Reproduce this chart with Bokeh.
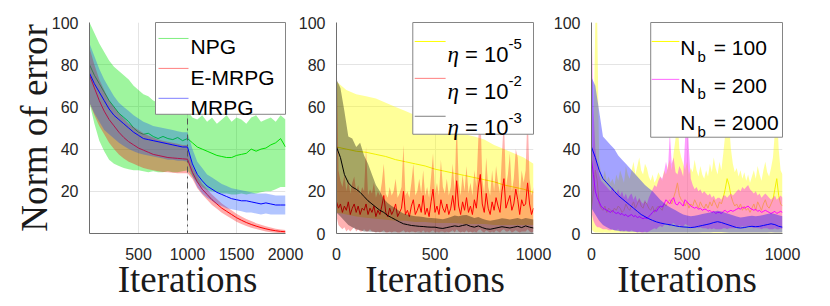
from bokeh.plotting import figure
from bokeh.layouts import row
from bokeh.models import Range1d, FixedTicker, Span, Label
from bokeh.embed import file_html
from bokeh.resources import INLINE

# ---------------- data ----------------
# Panel 1: iterations 0..2000 every 50
ITER1 = list(range(0, 2001, 50))
npg_mean = [80, 75, 71, 67, 63, 60, 57, 55, 53, 50, 48, 47, 47.5, 46, 45, 46, 45, 44.5, 45.5, 44, 45,
            43, 41, 40, 39, 38, 37, 36.5, 36, 36, 37, 37.5, 38, 40, 39, 40, 40.5, 42, 43, 45, 41]
npg_hi = [100, 95, 90, 86, 82, 79, 77, 75, 73, 70, 68, 66, 65, 63, 62, 61, 60, 61, 59, 60, 58,
          55, 54, 56, 53, 55, 52, 54, 56, 53, 55, 54, 52, 55, 56, 53, 54, 55, 53, 56, 54]
npg_lo = [62, 52, 44, 39, 35, 33, 32, 31, 30.5, 30, 30, 29.5, 29, 29.5, 29, 29, 29.5, 29, 29, 29.5, 30,
          27, 24, 22, 20.5, 20, 19.5, 19, 19, 18.5, 18.5, 19, 18.5, 19, 19, 19.5, 20, 20, 21, 22, 22]

emrpg_mean = [75, 69, 63, 58, 54, 51, 48, 45.5, 43.5, 42, 40.5, 39.5, 38.5, 37.5, 37, 36.5, 36, 35.8, 35.6, 35.4, 35.2,
              29, 24.5, 21, 18.5, 16, 14, 12, 10.5, 9, 7.5, 6.3, 5.2, 4.3, 3.5, 2.8, 2.2, 1.7, 1.3, 1.0, 0.8]
emrpg_hi = [88, 80, 73, 68, 63, 60, 57, 54.5, 52, 50.5, 49, 47.5, 46.5, 45.5, 44.5, 44, 43.5, 43, 42.5, 42, 42,
            32, 27.5, 23.5, 21, 18.5, 16.3, 14.2, 12.6, 11, 9.4, 8.1, 6.9, 5.9, 4.9, 4.1, 3.4, 2.8, 2.3, 1.9, 1.6]
emrpg_lo = [62, 56, 51, 47, 43, 40, 37.5, 35.5, 34, 33, 32, 31, 30.5, 30, 29.5, 29.2, 29, 28.8, 28.6, 28.5, 28.5,
            26, 21.5, 18.5, 16, 13.5, 11.7, 9.8, 8.4, 7, 5.6, 4.5, 3.5, 2.7, 2.1, 1.5, 1.0, 0.6, 0.3, 0.1, 0]

mrpg_mean = [76, 71, 67, 63, 59, 56, 54, 52, 50, 48, 46.5, 45, 44.5, 44, 43.5, 43, 42.5, 42, 41.5, 41, 41,
             33, 28, 25, 22.5, 21, 19.5, 18.5, 17.5, 16.5, 16, 15.5, 15.5, 15, 14.5, 14, 14.5, 14, 13.5, 13.5, 13.5]
mrpg_hi = [90, 84, 78, 73, 69, 65, 62, 60, 58, 56, 54.5, 53, 52, 51, 50.5, 50, 49.5, 49, 48.5, 48, 48,
           40, 34, 31, 28, 26.5, 25, 23.5, 22.5, 21.5, 21, 20.5, 20, 19.5, 19, 19, 19, 18.5, 18, 18, 18]
mrpg_lo = [62, 57, 53, 49, 47, 45, 43, 41.5, 40, 39, 38, 37.5, 37, 36.5, 36, 35.5, 35, 35, 34.5, 34.5, 34,
           27, 22, 19, 17, 15.5, 14, 13, 12, 11.5, 11, 10.5, 10, 10, 9.5, 9, 9.5, 9, 9, 9, 9]

# Panel 2: eta study
ITER_COARSE = list(range(0, 1001, 50))
ITER_MID = list(range(0, 1001, 20))
ITER_FINE = list(range(0, 1001, 10))

eta5_mean = [41, 40, 39, 38.5, 37.5, 36.5, 35, 34, 33, 32, 30.5, 29.5, 28.5, 27.5, 26.5, 25.5, 24.5, 23, 22, 21, 19.5]
eta5_hi = [72, 68, 66, 65, 64, 62, 60, 58, 56, 54, 52, 50, 48.5, 47, 46, 44.5, 42, 40, 38, 36, 33]
eta5_lo = [10, 9, 8, 7.5, 7, 6.5, 6, 6, 5.5, 5.5, 5, 5, 5, 4.5, 4.5, 4.5, 4, 4, 4, 4, 4]

eta2_mean = [15, 12, 14, 10, 13, 11, 15, 9, 12, 14,
             10, 13, 9, 12, 11, 14, 9, 12, 10, 13,
             8, 11, 9, 13, 18, 10, 8, 12, 9, 11,
             14, 8, 10, 12, 20, 9, 11, 8, 13, 16,
             9, 11, 14, 10, 18, 9, 12, 8, 15, 21,
             10, 13, 9, 16, 12, 10, 14, 9, 12, 18,
             11, 25, 13, 9, 15, 11, 17, 10, 13, 9,
             16, 12, 22, 28, 14, 10, 19, 12, 9, 15,
             11, 17, 13, 10, 20, 26, 12, 15, 18, 11,
             14, 21, 16, 9, 16, 13, 14, 24, 14, 9,
             12]
eta2_hi = [90, 30, 25, 22, 28, 20, 26, 19, 24, 27,
           20, 23, 18, 22, 20, 41, 18, 21, 19, 24,
           17, 20, 18, 24, 33, 19, 17, 22, 18, 20,
           26, 17, 19, 22, 42, 18, 20, 17, 24, 33,
           18, 20, 26, 19, 30, 18, 22, 17, 27, 38,
           19, 24, 18, 35, 22, 19, 26, 18, 22, 33,
           20, 55, 24, 18, 28, 20, 32, 19, 24, 18,
           30, 22, 45, 60, 26, 19, 36, 22, 18, 30,
           20, 32, 24, 19, 38, 55, 22, 28, 38, 20,
           26, 40, 36, 18, 30, 24, 30, 58, 26, 18,
           22]
eta2_lo = [8, 4, 3, 2, 3, 1, 2, 1, 2, 3,
           1, 2, 1, 1, 2, 1, 1, 2, 1, 1,
           0.5, 1, 0.5, 1, 1.5, 0.5, 0.5, 1, 0.5, 1,
           1, 0.5, 0.5, 1, 1.5, 0.5, 1, 0.5, 1, 1,
           0.5, 1, 1, 0.5, 1.5, 0.5, 1, 0.5, 1, 1.5,
           0.5, 1, 0.5, 1, 1, 0.5, 1, 0.5, 1, 1.5,
           0.5, 2, 1, 0.5, 1, 0.5, 1.5, 0.5, 1, 0.5,
           1, 0.5, 1.5, 2, 1, 0.5, 1.5, 1, 0.5, 1,
           0.5, 1.5, 1, 0.5, 1.5, 2, 1, 1, 1.5, 0.5,
           1, 1.5, 1, 0.5, 1, 1, 1, 2, 1, 0.5,
           1]

eta3_mean = [41, 36, 28, 24, 22, 21, 19.5, 17.5, 15.5, 14, 12.5, 11, 10, 8.5, 7.5, 6.5, 5.5, 4.6, 4.2, 3.8,
             3.6, 3.4, 3.3, 3.1, 3.0, 3.0, 2.6, 2.4, 2.8, 3.2, 3.6, 3.3, 3.8, 4.2, 3.4, 3.0, 3.6, 2.8, 2.2, 2.0,
             2.4, 2.8, 3.2, 2.9, 2.6, 3.0, 3.4, 2.8, 3.6, 3.0, 2.6]
eta3_hi = [73, 69, 58, 46, 45, 41, 43, 37, 33, 28, 23, 20, 16.5, 14.5, 13, 12, 10.5, 9.5, 9, 8.5,
           8.2, 8, 7.8, 7.5, 7.3, 7.2, 7, 6.8, 7.2, 7.8, 8.5, 8.2, 8.6, 8.8, 8.0, 7.4, 7.8, 7.0, 6.4, 6.0,
           6.4, 6.8, 7.2, 7.0, 6.6, 7.0, 7.4, 6.8, 7.4, 7.0, 6.6]
eta3_lo = [10, 8, 6, 4, 3, 2, 1.5, 1, 1, 0.8, 0.6, 0.6, 0.5, 0.5, 0.4, 0.4, 0.3, 0.3, 0.3, 0.3,
           0.3, 0.2, 0.2, 0.2, 0.2, 0.2, 0.2, 0.2, 0.2, 0.3, 0.3, 0.3, 0.3, 0.3, 0.3, 0.2, 0.2, 0.2, 0.2, 0.2,
           0.2, 0.2, 0.2, 0.2, 0.2, 0.2, 0.2, 0.2, 0.2, 0.2, 0.2]

# Panel 3: batch-size study
nb100_mean = [12, 20, 30, 25, 14, 12, 11, 13, 10, 12,
              11, 10, 12, 11, 13, 12, 10, 11, 14, 12,
              11, 13, 15, 12, 14, 16, 13, 12, 15, 14,
              12, 11, 13, 10, 12, 13, 12, 11, 14, 13,
              15, 16, 14, 17, 20, 24, 18, 16, 15, 13,
              15, 12, 14, 13, 16, 14, 12, 15, 13, 12,
              14, 12, 15, 13, 16, 14, 12, 15, 14, 17,
              21, 26, 23, 18, 15, 13, 14, 12, 14, 11,
              13, 11, 12, 10, 12, 14, 11, 15, 13, 11,
              14, 16, 13, 12, 14, 16, 21, 26, 18, 14,
              13]
nb100_hi = [30, 45, 100, 100, 35, 28, 26, 30, 25, 27,
            24, 26, 23, 28, 25, 30, 27, 24, 32, 28,
            26, 30, 34, 28, 32, 36, 30, 28, 33, 31,
            27, 25, 28, 24, 26, 29, 27, 25, 30, 28,
            32, 35, 30, 38, 45, 55, 40, 36, 33, 30,
            34, 28, 31, 29, 35, 30, 27, 32, 28, 26,
            30, 27, 33, 29, 36, 31, 28, 34, 30, 38,
            47, 60, 52, 40, 33, 29, 31, 27, 30, 26,
            29, 25, 28, 24, 27, 30, 26, 32, 28, 25,
            30, 34, 29, 27, 31, 36, 48, 60, 40, 30,
            28]
nb100_lo = [2, 1, 0.5, 0.5, 0.5, 0.3, 0.3, 0.5, 0.3, 0.3,
            0.3, 0.3, 0.3, 0.3, 0.3, 0.3, 0.3, 0.3, 0.3, 0.3,
            0.3, 0.3, 0.3, 0.3, 0.3, 0.3, 0.3, 0.3, 0.3, 0.3,
            0.3, 0.3, 0.3, 0.3, 0.3, 0.3, 0.3, 0.3, 0.3, 0.3,
            0.3, 0.3, 0.3, 0.3, 0.3, 0.3, 0.3, 0.3, 0.3, 0.3,
            0.3, 0.3, 0.3, 0.3, 0.3, 0.3, 0.3, 0.3, 0.3, 0.3,
            0.3, 0.3, 0.3, 0.3, 0.3, 0.3, 0.3, 0.3, 0.3, 0.3,
            0.3, 0.3, 0.3, 0.3, 0.3, 0.3, 0.3, 0.3, 0.3, 0.3,
            0.3, 0.3, 0.3, 0.3, 0.3, 0.3, 0.3, 0.3, 0.3, 0.3,
            0.3, 0.3, 0.3, 0.3, 0.3, 0.3, 0.3, 0.3, 0.3, 0.3,
            0.3]

nb200_mean = [35, 28, 20, 17, 15, 13, 12, 11.5, 11, 10.5,
              10, 11, 10, 9.5, 10, 9, 9.5, 8.5, 9, 8,
              8.5, 9, 8, 8.5, 7.5, 8, 7.5, 7, 7.5, 7,
              8, 9, 10, 11, 10.5, 12, 13, 12.5, 14, 16,
              15, 14, 16, 17, 14, 13.5, 15, 14, 13, 16,
              15, 14, 13, 12.5, 12, 12.5, 11.5, 12, 11, 11.5,
              11.5, 10.5, 11, 10, 10.5, 9.5, 10, 10, 9.5, 10.5,
              11, 10, 10.5, 11, 10.5, 11, 11.5, 12, 11.5, 12.5,
              12, 12.5, 13, 12, 11.5, 11, 11.5, 10.5, 11, 10,
              10.5, 11, 10.5, 10, 9.5, 10, 10.5, 9.5, 10, 10.5,
              10]
nb200_hi = [100, 60, 40, 32, 28, 25, 24, 23, 22, 21,
            20, 22, 20, 19, 21, 18, 20, 17, 19, 16,
            18, 19, 16, 18, 15, 17, 15, 14, 16, 14,
            17, 19, 21, 23, 22, 25, 27, 26, 29, 34,
            30, 48, 33, 36, 29, 28, 32, 30, 27, 45,
            60, 40, 26, 23, 21, 22, 20, 21, 19, 20,
            19, 18, 19, 17, 18, 16, 17, 17, 16, 18,
            18, 17, 18, 19, 18, 19, 20, 21, 20, 22,
            21, 22, 23, 21, 20, 19, 20, 18, 19, 17,
            18, 19, 18, 17, 16, 17, 18, 16, 17, 18,
            17]
nb200_lo = [10, 6, 4, 3, 3, 2.5, 2, 2, 2, 1.5,
            1.5, 2, 1.5, 1.5, 2, 1, 1.5, 1, 1.5, 1,
            1, 1.5, 1, 1, 0.5, 1, 0.5, 0.5, 1, 0.5,
            1, 1.5, 2, 2.5, 2, 3, 3.5, 3, 4, 5,
            4, 3.5, 4.5, 5, 4, 3.5, 4, 3.5, 3, 4.5,
            4, 3.5, 3, 3, 2.5, 3, 2.5, 3, 2.5, 2.5,
            2.5, 2, 2.5, 2, 2.5, 2, 2, 2, 2, 2.5,
            2.5, 2, 2.5, 2.5, 2.5, 2.5, 3, 3, 3, 3.5,
            3, 3.5, 3.5, 3, 3, 2.5, 3, 2.5, 2.5, 2,
            2.5, 2.5, 2.5, 2, 2, 2, 2.5, 2, 2, 2.5,
            2]

nb2000_mean = [41, 36, 30, 26, 24, 22, 20, 18, 16.5, 15, 13.5, 12, 10.5, 9, 8, 7, 6.2, 5.5, 5, 4.6,
               4.3, 4, 3.6, 3.3, 3.1, 3, 2.8, 3, 3.4, 3.8, 4.2, 4.6, 5.2, 5.6, 5.2, 4.6, 4, 3.4, 2.8, 2.6,
               2.8, 3.2, 3.4, 3.2, 3.4, 3.8, 4.2, 4.6, 4.2, 3.4, 3.0]
nb2000_hi = [74, 70, 58, 46, 44, 42, 40, 37, 35, 33, 31, 29, 27, 25, 23, 21.5, 20, 18, 16, 14.5,
             13, 12, 11, 10, 9, 8.5, 8.2, 8.4, 8.8, 9.2, 9.6, 10, 10.4, 10.8, 10.4, 9.8, 9.2, 8.6, 8, 7.6,
             7.8, 8.2, 8.4, 8.2, 8.4, 8.8, 9.2, 9.6, 9.2, 8.6, 8.2]
nb2000_lo = [12, 9, 6, 4, 3, 2, 1.5, 1.2, 1, 1, 0.8, 0.8, 0.6, 0.6, 0.5, 0.5, 0.5, 0.5, 0.5, 0.5,
             0.5, 0.5, 0.5, 0.5, 0.5, 0.5, 0.5, 0.5, 0.5, 0.6, 0.6, 0.6, 0.7, 0.7, 0.7, 0.6, 0.5, 0.5, 0.5, 0.5,
             0.5, 0.5, 0.5, 0.5, 0.5, 0.5, 0.5, 0.6, 0.5, 0.5, 0.5]

X1_TICKS = [500, 1000, 1500, 2000]
X23_TICKS = [0, 500, 1000]
Y1_TICKS = [20, 40, 60, 80, 100]
Y23_TICKS = [0, 20, 40, 60, 80, 100]

# ---------------- layout helpers (page-pixel geometry) ----------------
FRAME_TOP, FRAME_BOTTOM = 23.0, 234.5
FRAMES = {1: (97.0, 293.0, 0, 2000), 2: (337.0, 541.0, 0, 1000), 3: (590.0, 790.0, 0, 1000)}
FIG_H = 303
TOP_BORDER = 22
BOTTOM_BORDER = 70


def dx(i, px):
    l, r, a, b = FRAMES[i]
    return a + (px - l) / (r - l) * (b - a)


def dy(py):
    return (FRAME_BOTTOM - py) / (FRAME_BOTTOM - FRAME_TOP) * 100.0


TICK_FONT = "Liberation Sans"
SERIF = "Liberation Serif"


def make_fig(i, width, left, right, xticks, yticks, ylabel=None):
    p = figure(width=width, height=FIG_H, x_range=Range1d(FRAMES[i][2], FRAMES[i][3]),
               y_range=Range1d(0, 100), output_backend="svg", toolbar_location=None,
               min_border_left=left, min_border_right=right, min_border_top=TOP_BORDER,
               min_border_bottom=BOTTOM_BORDER)
    p.outline_line_color = None
    p.border_fill_color = None
    p.background_fill_color = "white"
    xt = FixedTicker(ticks=xticks)
    yt = FixedTicker(ticks=yticks)
    p.xaxis.ticker = xt
    p.yaxis.ticker = yt
    p.xgrid.ticker = xt
    p.ygrid.ticker = yt
    p.grid.grid_line_color = "#e4e4e4"
    p.grid.grid_line_width = 1
    for ax in (p.xaxis, p.yaxis):
        ax.major_tick_line_color = None
        ax.minor_tick_line_color = None
        ax.axis_line_color = "#6e6e6e"
        ax.major_label_text_font = TICK_FONT
        ax.major_label_text_font_size = "16px"
        ax.major_label_text_color = "#262626"
    p.xaxis.major_label_standoff = 8
    p.yaxis.major_label_standoff = 5
    p.xaxis.axis_label = "Iterations"
    p.xaxis.axis_label_text_font = SERIF
    p.xaxis.axis_label_text_font_size = "37px"
    p.xaxis.axis_label_text_font_style = "normal"
    p.xaxis.axis_label_text_color = "#1a1a1a"
    p.xaxis.axis_label_standoff = -4
    if ylabel:
        p.yaxis.axis_label = ylabel
        p.yaxis.axis_label_text_font = SERIF
        p.yaxis.axis_label_text_font_size = "37px"
        p.yaxis.axis_label_text_font_style = "normal"
        p.yaxis.axis_label_text_color = "#1a1a1a"
        p.yaxis.axis_label_standoff = -6
    return p


def band(p, x, lo, hi, mean, color, fill_alpha=0.38, line_color=None):
    p.varea(x=x, y1=lo, y2=hi, fill_color=color, fill_alpha=fill_alpha)
    p.line(x=x, y=mean, line_color=line_color or color, line_width=1)


def legend_box(p, i, left_px, bottom_px):
    p.quad(left=[dx(i, left_px)], right=[FRAMES[i][3]], bottom=[dy(bottom_px)], top=[100],
           fill_color="white", fill_alpha=1.0, line_color="#858585", line_width=1, level="overlay")


def sample(p, i, x0px, x1px, ypx, color, alpha):
    p.segment(x0=[dx(i, x0px)], y0=[dy(ypx)], x1=[dx(i, x1px)], y1=[dy(ypx)],
              line_color=color, line_alpha=alpha, line_width=1, level="overlay")


def label(p, i, xpx, ypx, text, size="21px", font=TICK_FONT, style="normal"):
    p.add_layout(Label(x=dx(i, xpx), y=dy(ypx), text=text, text_font=font, text_font_size=size,
                       text_font_style=style, text_color="black", text_baseline="alphabetic",
                       text_align="left", level="overlay"))


# ---------------- panel 1 ----------------
p1 = make_fig(1, 307, 89, 22, X1_TICKS, Y1_TICKS, ylabel="Norm of error")
band(p1, ITER1, npg_lo, npg_hi, npg_mean, "#00e600", 0.38, "#00e000")
band(p1, ITER1, emrpg_lo, emrpg_hi, emrpg_mean, "#ff0000", 0.33)
band(p1, ITER1, mrpg_lo, mrpg_hi, mrpg_mean, "#0040ff", 0.3, "#0000ff")
p1.add_layout(Span(location=1000, dimension="height", line_color="#555555", line_dash="dashdot", line_width=1))
legend_box(p1, 1, 163, 115)
for ypx, base, txt, col in ((39, 47.3, "NPG", "#00dd00"), (69, 78.3, "E-MRPG", "#ff0000"), (99, 108.3, "MRPG", "#0000ff")):
    sample(p1, 1, 166, 196, ypx, col, 0.5)
    label(p1, 1, 198, base, txt)

# ---------------- panel 2 ----------------
p2 = make_fig(2, 259, 34, 21, X23_TICKS, Y23_TICKS)
p2.margin = (0, 0, 0, -12)
band(p2, ITER_COARSE, eta5_lo, eta5_hi, eta5_mean, "#ffff00", 0.4, "#f2f200")
band(p2, ITER_FINE, eta2_lo, eta2_hi, eta2_mean, "#ff0000", 0.3)
band(p2, ITER_MID, eta3_lo, eta3_hi, eta3_mean, "#000000", 0.35)
legend_box(p2, 2, 416, 135)
for ypx, base, exp, col, a in ((42, 55, "-5", "#ffff00", 1.0), (79, 91.7, "-2", "#ff0000", 0.5),
                               (117, 128.3, "-3", "#000000", 0.5)):
    sample(p2, 2, 418, 450, ypx, col, a)
    label(p2, 2, 452, base, "\u03b7", size="23px", font=SERIF, style="italic")
    label(p2, 2, 470, base, "= 10", size="22px")
    label(p2, 2, 515, base - 10, exp, size="15px")

# ---------------- panel 3 ----------------
p3 = make_fig(3, 264, 32, 32, X23_TICKS, Y23_TICKS)
p3.margin = (0, 0, 0, -4)
band(p3, ITER_FINE, nb100_lo, nb100_hi, nb100_mean, "#ffff00", 0.4, "#f2f200")
band(p3, ITER_FINE, nb200_lo, nb200_hi, nb200_mean, "#ff00ff", 0.38)
band(p3, ITER_MID, nb2000_lo, nb2000_hi, nb2000_mean, "#0000ff", 0.36)
legend_box(p3, 3, 652, 138)
for ypx, base, txt, col, a in ((42, 48.3, "= 100", "#ffff00", 1.0), (80, 86, "= 200", "#ff00ff", 0.6),
                               (None, 123.3, "= 2000", None, 0)):
    if ypx is not None:
        sample(p3, 3, 653, 682, ypx, col, a)
    label(p3, 3, 683, base, "N")
    label(p3, 3, 701, base + 8.5, "b", size="15px")
    label(p3, 3, 718, base, txt)

layout = row(p1, p2, p3)
layout.margin = (0, 0, -20, 0)
open("out.html", "w").write(file_html(layout, INLINE))
